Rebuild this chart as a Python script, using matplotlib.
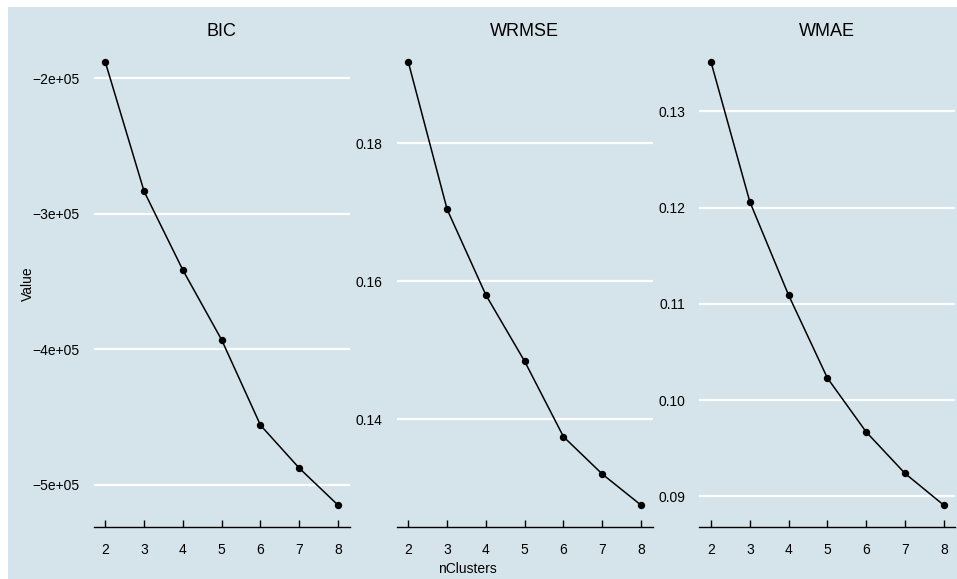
import matplotlib
matplotlib.use("Agg")
import matplotlib.pyplot as plt
from matplotlib.patches import Rectangle

plt.rcParams['font.family'] = ['Liberation Sans', 'DejaVu Sans']

# data
n_clusters = [2, 3, 4, 5, 6, 7, 8]
bic = [-1.882e5, -2.836e5, -3.417e5, -3.932e5, -4.561e5, -4.878e5, -5.151e5]
wrmse = [0.1917, 0.1704, 0.1580, 0.1484, 0.1375, 0.1321, 0.1276]
wmae = [0.1351, 0.1206, 0.1109, 0.1023, 0.0967, 0.0924, 0.0891]

panel_titles = ["BIC", "WRMSE", "WMAE"]
panel_values = [bic, wrmse, wmae]

bic_ticks = [-2e5, -3e5, -4e5, -5e5]
bic_labels = ["\u22122e+05", "\u22123e+05", "\u22124e+05", "\u22125e+05"]
wrmse_ticks = [0.14, 0.16, 0.18]
wrmse_labels = ["0.14", "0.16", "0.18"]
wmae_ticks = [0.09, 0.10, 0.11, 0.12, 0.13]
wmae_labels = ["0.09", "0.10", "0.11", "0.12", "0.13"]
panel_ticks = [(bic_ticks, bic_labels), (wrmse_ticks, wrmse_labels), (wmae_ticks, wmae_labels)]

x_ticks = [2, 3, 4, 5, 6, 7, 8]

BG = "#d5e4eb"
W, H = 957, 579

fig = plt.figure(figsize=(W / 100, H / 100), dpi=100, facecolor=BG)

# white strips on the left and top edges
fig.patches.append(Rectangle((0, 0), 8 / W, 1, transform=fig.transFigure,
                             facecolor="white", edgecolor="none", zorder=-1))
fig.patches.append(Rectangle((0, 1 - 7 / H), 1, 7 / H, transform=fig.transFigure,
                             facecolor="white", edgecolor="none", zorder=-1))

lefts = [93.7, 396.7, 699.4]
top_px, bot_px = 40.0, 527.3
pw = 256.0

for left, title, vals, (yt, yl) in zip(lefts, panel_titles, panel_values, panel_ticks):
    ax = fig.add_axes([left / W, (H - bot_px) / H, pw / W, (bot_px - top_px) / H])
    ax.set_facecolor(BG)
    ax.plot(n_clusters, vals, color="black", lw=1.1, marker="o", markersize=4.3, zorder=3)
    ax.margins(x=0.05, y=0.05)
    ax.set_xticks(x_ticks)
    ax.set_xticklabels([str(v) for v in x_ticks])
    ax.set_yticks(yt)
    ax.set_yticklabels(yl)
    ax.yaxis.grid(True, color="white", lw=1.6, zorder=0)
    ax.xaxis.grid(False)
    ax.set_axisbelow(True)
    for s in ["top", "right", "left"]:
        ax.spines[s].set_visible(False)
    ax.spines["bottom"].set_color("black")
    ax.spines["bottom"].set_linewidth(1.0)
    ax.tick_params(axis="x", direction="in", length=5, width=1.0, color="black",
                   labelsize=10, pad=11, labelcolor="black")
    ax.tick_params(axis="y", length=0, labelsize=10, pad=10, labelcolor="black")
    # facet strip title
    fig.text((left + pw / 2) / W, 1 - 32 / H, title, ha="center", va="center",
             fontsize=13, color="black")

fig.text(28 / W, 1 - 283.5 / H, "Value", rotation=90, ha="center", va="center", fontsize=10)
fig.text(467 / W, 1 - 569 / H, "nClusters", ha="center", va="center", fontsize=10)

fig.savefig("out.png", dpi=100, facecolor=BG)
